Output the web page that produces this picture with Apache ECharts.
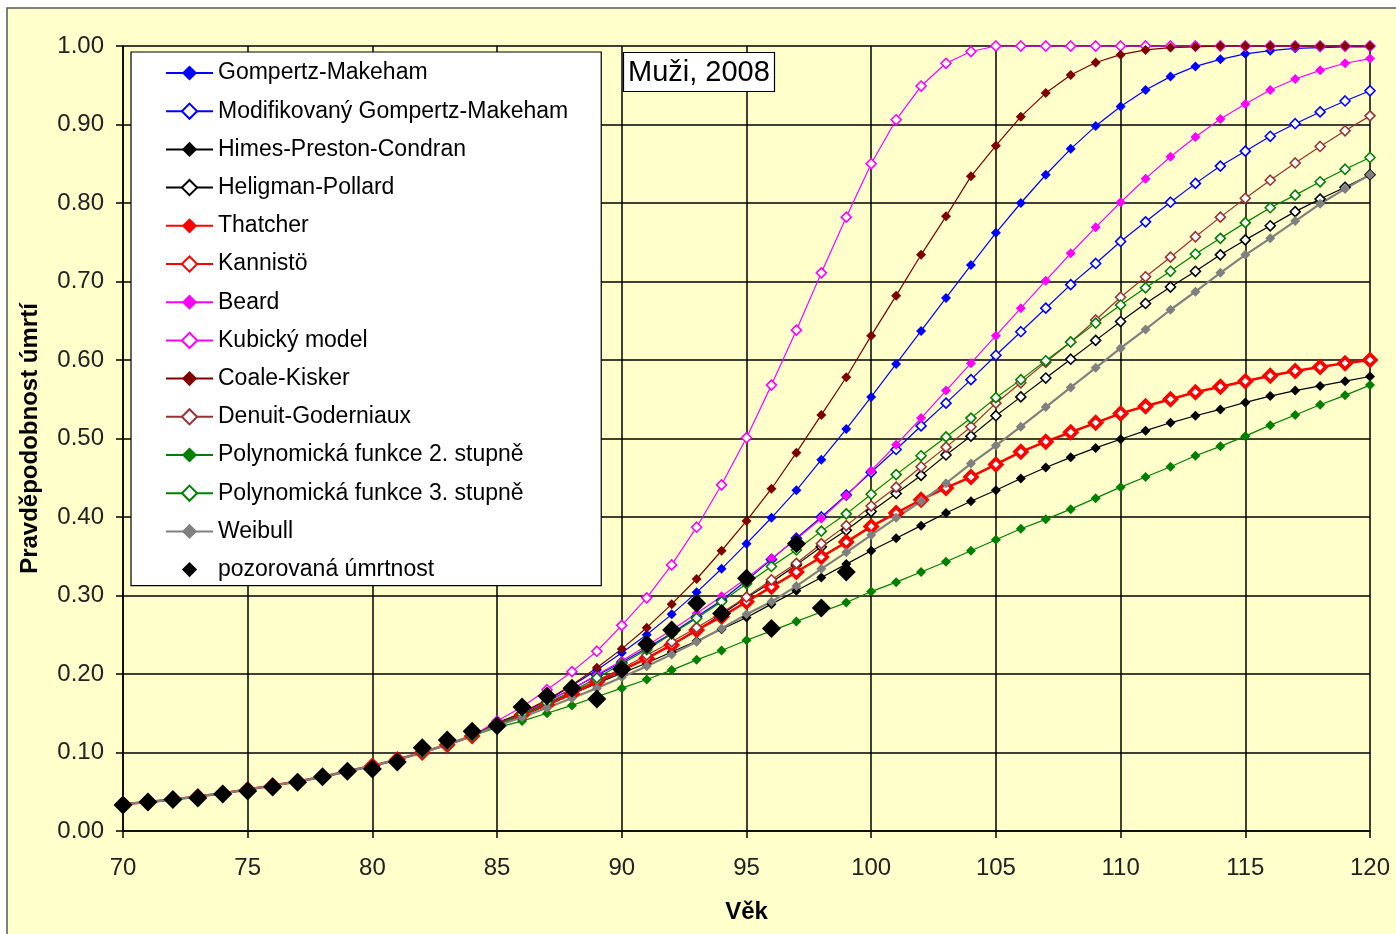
<!DOCTYPE html>
<html>
<head>
<meta charset="utf-8">
<script src="https://cdn.jsdelivr.net/npm/echarts@6/dist/echarts.min.js"></script>
<style>
  html, body { margin: 0; padding: 0; background: #fff; }
  #chart { width: 1396px; height: 934px; }
</style>
</head>
<body>
<div id="chart"></div>
<script>
// věk (x) 70..120
const ages = [70, 71, 72, 73, 74, 75, 76, 77, 78, 79, 80, 81, 82, 83, 84, 85, 86, 87, 88, 89,
  90, 91, 92, 93, 94, 95, 96, 97, 98, 99, 100, 101, 102, 103, 104, 105, 106, 107, 108, 109,
  110, 111, 112, 113, 114, 115, 116, 117, 118, 119, 120];
const yTicks = [0, 0.1, 0.2, 0.3, 0.4, 0.5, 0.6, 0.7, 0.8, 0.9, 1.0];

// 70..84 - all models coincide here
const early = [0.034, 0.037, 0.040, 0.044, 0.048, 0.053, 0.058, 0.063, 0.069, 0.076, 0.083, 0.091, 0.100, 0.110, 0.121];

// 85..120 per model
const gompertzMakeham = [0.136, 0.150, 0.166, 0.185, 0.205, 0.227, 0.250, 0.276, 0.304, 0.334, 0.366, 0.399, 0.434, 0.473, 0.512, 0.553, 0.595, 0.637, 0.679, 0.721, 0.762, 0.800, 0.836, 0.869, 0.898, 0.923, 0.944, 0.961, 0.974, 0.983, 0.990, 0.994, 0.997, 0.998, 0.999, 0.999];
const modGompertz = [0.136, 0.150, 0.165, 0.181, 0.198, 0.215, 0.233, 0.252, 0.273, 0.294, 0.319, 0.346, 0.373, 0.400, 0.428, 0.457, 0.486, 0.516, 0.545, 0.575, 0.606, 0.636, 0.666, 0.696, 0.723, 0.751, 0.776, 0.801, 0.825, 0.847, 0.866, 0.885, 0.901, 0.916, 0.930, 0.943];
const himesPreston = [0.138, 0.150, 0.162, 0.175, 0.188, 0.201, 0.214, 0.228, 0.242, 0.257, 0.272, 0.289, 0.306, 0.323, 0.340, 0.357, 0.373, 0.389, 0.405, 0.420, 0.434, 0.449, 0.463, 0.476, 0.488, 0.499, 0.510, 0.520, 0.529, 0.537, 0.546, 0.554, 0.561, 0.567, 0.573, 0.579];
const heligman = [0.135, 0.147, 0.160, 0.174, 0.189, 0.204, 0.220, 0.237, 0.255, 0.276, 0.297, 0.317, 0.339, 0.362, 0.383, 0.407, 0.430, 0.453, 0.479, 0.503, 0.529, 0.553, 0.577, 0.601, 0.625, 0.649, 0.672, 0.693, 0.713, 0.734, 0.753, 0.771, 0.789, 0.805, 0.820, 0.836];
const thatcher = [0.136, 0.148, 0.161, 0.175, 0.190, 0.205, 0.220, 0.237, 0.256, 0.273, 0.292, 0.311, 0.330, 0.349, 0.368, 0.388, 0.405, 0.422, 0.437, 0.451, 0.467, 0.483, 0.496, 0.508, 0.520, 0.532, 0.541, 0.550, 0.559, 0.566, 0.573, 0.580, 0.586, 0.591, 0.596, 0.600];
const kannisto = [0.136, 0.148, 0.161, 0.175, 0.190, 0.205, 0.220, 0.237, 0.256, 0.273, 0.292, 0.311, 0.330, 0.349, 0.368, 0.388, 0.405, 0.422, 0.437, 0.451, 0.467, 0.483, 0.496, 0.508, 0.520, 0.532, 0.541, 0.550, 0.559, 0.566, 0.573, 0.580, 0.586, 0.591, 0.596, 0.600];
const beard = [0.136, 0.150, 0.165, 0.181, 0.199, 0.217, 0.236, 0.256, 0.277, 0.299, 0.322, 0.347, 0.372, 0.398, 0.427, 0.459, 0.492, 0.526, 0.561, 0.596, 0.631, 0.666, 0.701, 0.736, 0.769, 0.801, 0.831, 0.859, 0.884, 0.907, 0.926, 0.944, 0.958, 0.969, 0.978, 0.984];
const kubicky = [0.140, 0.158, 0.180, 0.203, 0.229, 0.262, 0.297, 0.339, 0.387, 0.441, 0.501, 0.568, 0.638, 0.711, 0.782, 0.850, 0.906, 0.949, 0.978, 0.993, 1, 1, 1, 1, 1, 1, 1, 1, 1, 1, 1, 1, 1, 1, 1, 1];
const coaleKisker = [0.137, 0.151, 0.167, 0.186, 0.208, 0.232, 0.259, 0.289, 0.321, 0.357, 0.395, 0.436, 0.482, 0.530, 0.578, 0.631, 0.682, 0.734, 0.783, 0.834, 0.873, 0.910, 0.940, 0.963, 0.979, 0.989, 0.995, 0.998, 0.999, 1, 1, 1, 1, 1, 1, 1];
const denuit = [0.135, 0.148, 0.162, 0.177, 0.192, 0.207, 0.224, 0.241, 0.259, 0.278, 0.298, 0.320, 0.341, 0.366, 0.389, 0.414, 0.438, 0.464, 0.489, 0.515, 0.545, 0.571, 0.597, 0.623, 0.651, 0.680, 0.706, 0.731, 0.757, 0.782, 0.806, 0.829, 0.851, 0.872, 0.892, 0.911];
const poly2 = [0.132, 0.140, 0.150, 0.160, 0.171, 0.182, 0.193, 0.205, 0.218, 0.230, 0.243, 0.255, 0.267, 0.279, 0.291, 0.305, 0.317, 0.330, 0.343, 0.357, 0.371, 0.385, 0.397, 0.410, 0.424, 0.438, 0.451, 0.464, 0.478, 0.490, 0.503, 0.517, 0.530, 0.543, 0.555, 0.568];
const poly3 = [0.136, 0.149, 0.163, 0.178, 0.195, 0.213, 0.231, 0.251, 0.271, 0.292, 0.315, 0.337, 0.358, 0.382, 0.404, 0.429, 0.454, 0.478, 0.502, 0.526, 0.552, 0.575, 0.599, 0.623, 0.647, 0.670, 0.692, 0.713, 0.735, 0.755, 0.775, 0.794, 0.810, 0.827, 0.843, 0.858];
const weibull = [0.134, 0.145, 0.157, 0.169, 0.182, 0.196, 0.210, 0.225, 0.241, 0.258, 0.276, 0.292, 0.312, 0.334, 0.355, 0.377, 0.399, 0.420, 0.443, 0.468, 0.491, 0.515, 0.540, 0.565, 0.590, 0.615, 0.639, 0.664, 0.687, 0.711, 0.734, 0.755, 0.777, 0.799, 0.818, 0.836];

// pozorovaná úmrtnost, 70..99
const observed = [0.033, 0.037, 0.040, 0.042, 0.047, 0.051, 0.056, 0.062, 0.069, 0.076, 0.079, 0.088, 0.106, 0.116, 0.127, 0.134, 0.158, 0.172, 0.182, 0.168,
  0.206, 0.238, 0.256, 0.290, 0.277, 0.322, 0.258, 0.366, 0.284, 0.330];

const FONT = "'Liberation Sans', Arial, sans-serif";

function pairs(vals) {
  return vals.map((v, i) => [ages[i], v]);
}

function model(name, tail, color, hollow, extra) {
  const s = {
    name: name,
    type: "line",
    data: pairs(early.concat(tail)),
    symbol: "diamond",
    symbolSize: 10,
    showSymbol: true,
    animation: false,
    lineStyle: { color: color, width: 1.2 },
    itemStyle: hollow
      ? { color: "#fff", borderColor: color, borderWidth: 1.6 }
      : { color: color, borderWidth: 0 },
    emphasis: { disabled: true }
  };
  return Object.assign(s, extra || {});
}

const chart = echarts.init(document.getElementById("chart"));

chart.setOption({
  backgroundColor: "#fff",
  animation: false,
  textStyle: { fontFamily: FONT },
  title: {
    text: "Muži, 2008",
    left: 623,
    top: 52,
    padding: [6, 5, 5, 5],
    backgroundColor: "#fff",
    borderColor: "#000",
    borderWidth: 1.2,
    textStyle: { fontFamily: FONT, fontSize: 29, fontWeight: "normal", color: "#000" }
  },
  graphic: [
    {
      type: "rect",
      z: -10,
      shape: { x: 7, y: 8, width: 1420, height: 960 },
      style: { fill: "#FFFFCC", stroke: "#555", lineWidth: 1.5 }
    }
  ],
  legend: {
    orient: "vertical",
    left: 131,
    top: 52,
    padding: [9, 33, 4, 34],
    itemWidth: 47,
    itemHeight: 19,
    itemGap: 14.2,
    itemTextGap: 6,
    backgroundColor: "#fff",
    borderColor: "#000",
    borderWidth: 1.2,
    textStyle: { fontFamily: FONT, fontSize: 23, color: "#000", lineHeight: 24 }
  },
  grid: { left: 123, right: 26, top: 46, bottom: 103 },
  xAxis: {
    type: "value",
    min: 70,
    max: 120,
    interval: 5,
    name: "Věk",
    nameLocation: "middle",
    nameGap: 69,
    nameTextStyle: { fontFamily: FONT, fontSize: 24, fontWeight: "bold", color: "#000" },
    axisLine: { lineStyle: { color: "#000", width: 1.5 } },
    axisTick: { show: true, length: 7, lineStyle: { color: "#000", width: 1.5 } },
    axisLabel: { fontSize: 24, color: "#222", margin: 25 },
    splitLine: { show: true, lineStyle: { color: "#000", width: 1.5 } }
  },
  yAxis: {
    type: "value",
    min: yTicks[0],
    max: yTicks[yTicks.length - 1],
    interval: 0.1,
    name: "Pravděpodobnost úmrtí",
    nameLocation: "middle",
    nameGap: 81,
    nameRotate: 90,
    nameTextStyle: { fontFamily: FONT, fontSize: 24, fontWeight: "bold", color: "#000" },
    axisLine: { show: true, lineStyle: { color: "#000", width: 1.5 } },
    axisTick: { show: true, length: 7, lineStyle: { color: "#000", width: 1.5 } },
    axisLabel: { fontSize: 24, color: "#222", margin: 19, formatter: v => v.toFixed(2) },
    splitLine: { show: true, lineStyle: { color: "#000", width: 1.5 } }
  },
  series: [
    model("Gompertz-Makeham", gompertzMakeham, "#0000FF", false),
    model("Modifikovaný Gompertz-Makeham", modGompertz, "#0000FF", true),
    model("Himes-Preston-Condran", himesPreston, "#000000", false),
    model("Heligman-Pollard", heligman, "#000000", true),
    model("Thatcher", thatcher, "#FF0000", false, { symbolSize: 17, lineStyle: { color: "#FF0000", width: 2.5 } }),
    model("Kannistö", kannisto, "#FF0000", true, { symbolSize: 9 }),
    model("Beard", beard, "#FF00FF", false),
    model("Kubický model", kubicky, "#FF00FF", true),
    model("Coale-Kisker", coaleKisker, "#800000", false),
    model("Denuit-Goderniaux", denuit, "#993333", true),
    model("Polynomická funkce 2. stupně", poly2, "#008000", false),
    model("Polynomická funkce 3. stupně", poly3, "#008000", true),
    model("Weibull", weibull, "#808080", false, { lineStyle: { color: "#808080", width: 2.2 } }),
    {
      name: "pozorovaná úmrtnost",
      type: "line",
      data: observed.map((v, i) => [ages[i], v]),
      symbol: "diamond",
      symbolSize: 19,
      showSymbol: true,
      lineStyle: { width: 0, opacity: 0 },
      itemStyle: { color: "#000", opacity: 1 },
      z: 5,
      animation: false,
      emphasis: { disabled: true }
    }
  ]
});
</script>
</body>
</html>
